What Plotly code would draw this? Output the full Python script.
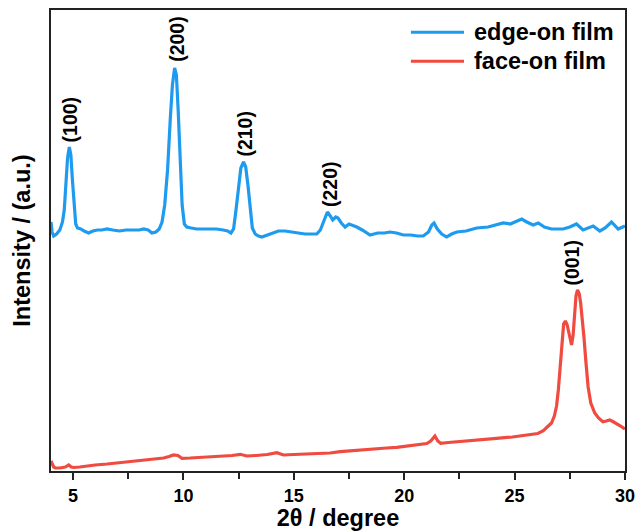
import plotly.graph_objects as go

# ---- data ----
edge_x = [4.00, 4.05, 4.12, 4.25, 4.40, 4.52, 4.60, 4.68, 4.75, 4.83, 4.90, 4.97, 5.05, 5.12, 5.20,
          5.35, 5.50, 5.70, 5.90, 6.10, 6.30, 6.54, 6.80, 7.10, 7.40, 7.70, 8.00, 8.20, 8.40, 8.57,
          8.75, 8.90, 9.03, 9.15, 9.28, 9.40, 9.50, 9.60, 9.68, 9.76, 9.85, 9.94, 10.04, 10.15, 10.35,
          10.60, 10.90, 11.20, 11.50, 11.80, 12.00, 12.15, 12.27, 12.38, 12.50, 12.60, 12.72, 12.82, 12.92,
          13.02, 13.12, 13.25, 13.40, 13.55, 13.80, 14.00, 14.30, 14.60, 14.90, 15.20, 15.50, 15.80, 16.04,
          16.20, 16.38, 16.52, 16.65, 16.76, 16.90, 17.00, 17.15, 17.32, 17.50, 17.65, 17.85, 18.10, 18.45,
          18.80, 19.10, 19.36, 19.65, 19.96, 20.30, 20.60, 20.86, 21.10, 21.25, 21.35, 21.50, 21.70, 21.92,
          22.15, 22.38, 22.80, 23.28, 23.80, 24.20, 24.48, 24.80, 25.10, 25.32, 25.55, 25.84, 26.07, 26.35,
          26.67, 27.00, 27.20, 27.50, 27.80, 28.10, 28.35, 28.56, 28.86, 29.10, 29.39, 29.69, 30.00]
edge_y = [249, 239, 235, 237, 241, 249, 261, 286, 313, 324, 316, 291, 261, 247, 243,
          242, 240, 238, 240, 241, 241, 242, 241, 240, 241, 241, 241, 242, 241, 238,
          239, 242, 249, 266, 301, 351, 386, 403, 396, 361, 306, 266, 247, 244, 243,
          242, 242, 242, 242, 241, 240, 238, 242, 261, 286, 303, 309, 304, 286,
          261, 243, 237, 235, 234, 236, 238, 240, 240, 239, 238, 237, 237, 237,
          241, 251, 259, 255, 251, 254, 253, 248, 244, 247, 246, 244, 241, 236,
          238, 238, 239, 238, 236, 236, 235, 235, 239, 246, 248, 242, 237, 234,
          237, 239, 240, 243, 244, 246, 248, 247, 250, 252, 249, 246, 248, 244,
          242, 242, 242, 244, 247, 241, 243, 245, 240, 243, 249, 242, 245]

face_x = [4.00, 4.05, 4.12, 4.20, 4.40, 4.65, 4.80, 4.92, 5.03, 5.30, 5.60, 6.00, 6.54, 7.00, 7.50,
          8.05, 8.60, 9.10, 9.35, 9.55, 9.75, 9.93, 10.30, 10.70, 11.06, 11.60, 12.20, 12.57, 12.87,
          13.30, 13.80, 14.23, 14.53, 15.00, 15.59, 16.10, 16.64, 17.10, 17.60, 18.15, 18.70, 19.20,
          19.66, 20.20, 20.70, 21.02, 21.20, 21.39, 21.52, 21.65, 22.00, 22.67, 23.40, 24.18, 24.90,
          25.69, 26.05, 26.30, 26.50, 26.67, 26.80, 26.90, 26.98, 27.05, 27.10, 27.15, 27.22, 27.30,
          27.38, 27.47, 27.58, 27.65, 27.72, 27.78, 27.85, 27.93, 27.99, 28.07, 28.14, 28.23, 28.33,
          28.45, 28.63, 28.80, 29.00, 29.15, 29.31, 29.45, 29.61, 29.80, 29.95, 30.00]
face_y = [10, 8, 4, 3, 3, 4, 6, 4, 3.5, 4, 5, 6, 7, 8, 9,
          10.5, 11.5, 13, 14.5, 16, 15.5, 12.7, 13, 13.5, 13.7, 14.5, 15.5, 16.7, 15,
          15.5, 16.5, 18.3, 16, 16.5, 17, 17.5, 18, 19.3, 20, 21, 22, 23,
          23.7, 25, 26.5, 27.5, 30, 35, 30, 27.7, 28.5, 30, 31, 32.7, 34,
          36, 37.5, 40.3, 44, 48, 55, 65, 81, 101, 121, 137, 147, 150,
          146, 137, 126, 136, 156, 175, 181, 177, 168, 151, 134, 109, 84,
          68, 58, 53, 49.3, 50, 51, 49.5, 47, 45, 42.7, 42]

series_names = ["edge-on film", "face-on film"]
series_colors = ["#1E9BEF", "#F04B41"]

peak_labels = ["(100)", "(200)", "(210)", "(220)", "(001)"]
peak_label_x = [4.88, 9.70, 12.77, 16.64, 27.58]
peak_label_y = [352, 432, 337, 287, 208]

x_tickvals = [5, 10, 15, 20, 25, 30]

FONT = "Liberation Sans, Arial, sans-serif"

fig = go.Figure()
fig.add_trace(go.Scatter(x=edge_x, y=edge_y, mode="lines", name=series_names[0],
                         line=dict(color=series_colors[0], width=3.2), showlegend=False))
fig.add_trace(go.Scatter(x=face_x, y=face_y, mode="lines", name=series_names[1],
                         line=dict(color=series_colors[1], width=3.2), showlegend=False))

for t, x, y in zip(peak_labels, peak_label_x, peak_label_y):
    fig.add_annotation(x=x, y=y, xref="x", yref="y", text=t, textangle=-90, showarrow=False,
                       xanchor="center", yanchor="middle",
                       font=dict(family=FONT, size=19.5, color="black", weight="bold"))

# manual legend (long line samples as in the reference)
leg_y = [0.952, 0.889]
for name, col, ly in zip(series_names, series_colors, leg_y):
    fig.add_shape(type="line", xref="paper", yref="paper", x0=0.627, x1=0.7195, y0=ly, y1=ly,
                  line=dict(color=col, width=3))
    fig.add_annotation(x=0.7334, y=ly, xref="paper", yref="paper", text=name, showarrow=False,
                       xanchor="left", yanchor="middle",
                       font=dict(family=FONT, size=23.5, color="black", weight="bold"))

fig.update_layout(
    width=636, height=531,
    margin=dict(l=51, r=11, t=10, b=60),
    plot_bgcolor="white", paper_bgcolor="white",
    font=dict(family=FONT, color="black"),
)
fig.update_xaxes(
    range=[4, 30], tickvals=x_tickvals, ticktext=[str(v) for v in x_tickvals],
    automargin=False,
    showgrid=False, zeroline=False, showline=True, linecolor="#222", linewidth=2, mirror=True,
    ticks="outside", ticklen=7, tickwidth=2, tickcolor="#222",
    minor=dict(tick0=0, dtick=2.5, ticks="outside", ticklen=6, tickwidth=2, tickcolor="#222"),
    tickfont=dict(family=FONT, size=18, color="black", weight="bold"),
    title=dict(text="2θ / degree", standoff=1,
               font=dict(family=FONT, size=23.5, color="black", weight="bold")),
)
fig.update_yaxes(
    range=[0, 461], showticklabels=False, ticks="", automargin=False,
    showgrid=False, zeroline=False, showline=True, linecolor="#222", linewidth=2, mirror=True,
    title=dict(text="Intensity / (a.u.)", standoff=12,
               font=dict(family=FONT, size=23.5, color="black", weight="bold")),
)

fig.write_html("out.html", config={"displayModeBar": False},
               post_script="document.body.style.margin='0';document.body.style.overflow='hidden';")
